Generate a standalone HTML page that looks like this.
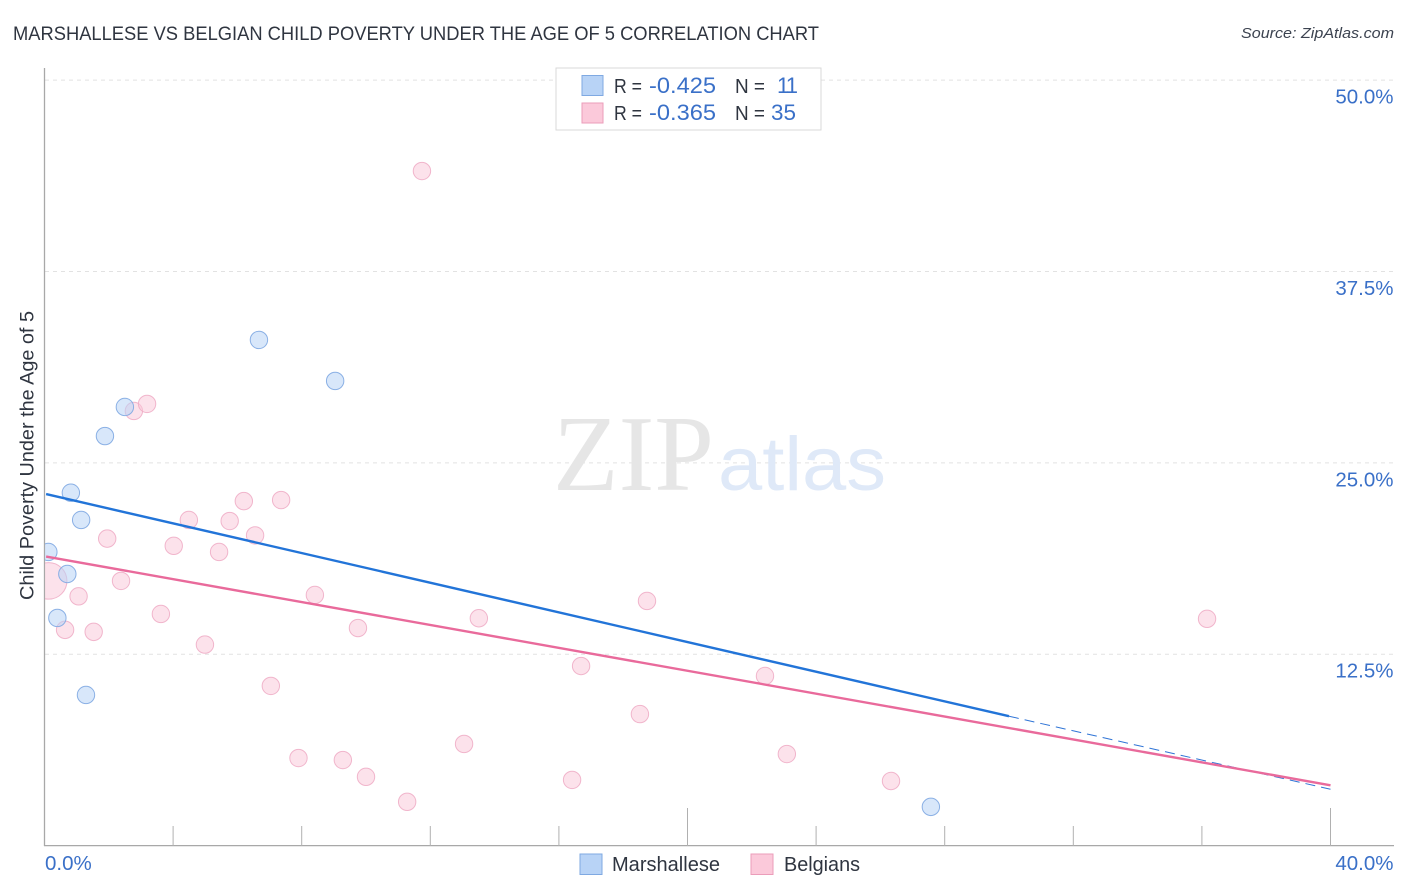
<!DOCTYPE html>
<html lang="en">
<head>
<meta charset="utf-8">
<title>Marshallese vs Belgian Child Poverty Correlation Chart</title>
<style>
html,body{margin:0;padding:0;background:#fff;}
svg{display:block;}
text{font-family:"Liberation Sans",sans-serif;}
</style>
</head>
<body>
<svg id="chart" xmlns="http://www.w3.org/2000/svg" width="1406" height="892" viewBox="0 0 1406 892">
  <rect x="0" y="0" width="1406" height="892" fill="#ffffff"/>
  <text x="13" y="40" font-size="19" fill="#2f3540" textLength="806" lengthAdjust="spacingAndGlyphs">MARSHALLESE VS BELGIAN CHILD POVERTY UNDER THE AGE OF 5 CORRELATION CHART</text>
  <text x="1241" y="38" font-size="15" font-style="italic" fill="#3c4350" textLength="153" lengthAdjust="spacingAndGlyphs">Source: ZipAtlas.com</text>

  <g id="grid"></g>

  <text x="553" y="490" font-size="108" fill="#e6e6e6" style="font-family:'Liberation Serif',serif" textLength="161" lengthAdjust="spacingAndGlyphs">ZIP</text>
  <text x="718" y="490" font-size="76" fill="#dfe9f8" textLength="168" lengthAdjust="spacingAndGlyphs">atlas</text>

  <g id="axes"></g>
  <g id="points"></g>
  <g id="trends"></g>
  <g id="labels"></g>

  <text transform="translate(33.5,600) rotate(-90)" x="0" y="0" font-size="19" fill="#2f3540" textLength="289" lengthAdjust="spacingAndGlyphs">Child Poverty Under the Age of 5</text>

  <g>
    <rect x="556" y="68" width="265" height="62" fill="#ffffff" stroke="#d9d9d9" stroke-width="1"/>
    <rect x="582" y="75.5" width="21" height="20" fill="#b8d3f6" stroke="#7fa9e2" stroke-width="1"/>
    <rect x="582" y="103" width="21" height="20" fill="#fbc9da" stroke="#eb9dba" stroke-width="1"/>
    <text x="614" y="93" font-size="20" fill="#2f3540" textLength="28" lengthAdjust="spacingAndGlyphs">R =</text>
    <text x="649" y="93" font-size="22" fill="#3a70c8" textLength="67" lengthAdjust="spacingAndGlyphs">-0.425</text>
    <text x="735" y="93" font-size="20" fill="#2f3540" textLength="30" lengthAdjust="spacingAndGlyphs">N =</text>
    <text x="777" y="93" font-size="22" fill="#3a70c8" textLength="21" lengthAdjust="spacing">11</text>
    <text x="614" y="120" font-size="20" fill="#2f3540" textLength="28" lengthAdjust="spacingAndGlyphs">R =</text>
    <text x="649" y="120" font-size="22" fill="#3a70c8" textLength="67" lengthAdjust="spacingAndGlyphs">-0.365</text>
    <text x="735" y="120" font-size="20" fill="#2f3540" textLength="30" lengthAdjust="spacingAndGlyphs">N =</text>
    <text x="771" y="120" font-size="22" fill="#3a70c8" textLength="25" lengthAdjust="spacingAndGlyphs">35</text>
  </g>

  <g>
    <rect x="580" y="854" width="22" height="20.5" fill="#b8d3f6" stroke="#7fa9e2" stroke-width="1"/>
    <text x="612" y="871" font-size="20" fill="#2f3540" textLength="108" lengthAdjust="spacingAndGlyphs">Marshallese</text>
    <rect x="751" y="854" width="22" height="20.5" fill="#fbc9da" stroke="#eb9dba" stroke-width="1"/>
    <text x="784" y="871" font-size="20" fill="#2f3540" textLength="76" lengthAdjust="spacingAndGlyphs">Belgians</text>
  </g>
</svg>

<script>
// Chart data (percent values)
const yTickValues = [50, 37.5, 25, 12.5];
const yTickLabels = ["50.0%", "37.5%", "25.0%", "12.5%"];
const xTickValues = [0, 4, 8, 12, 16, 20, 24, 28, 32, 36, 40];
const xMajorTicks = [20, 40];
const xEdgeLabels = ["0.0%", "40.0%"];
const xEdgeValues = [0, 40];

const marshalleseX = [0.12, 0.82, 1.14, 1.88, 2.5, 6.67, 9.04, 0.71, 0.4, 1.29, 27.57];
const marshalleseY = [19.18, 23.05, 21.27, 26.75, 28.65, 33.03, 30.35, 17.74, 14.87, 9.84, 2.53];

const belgianX = [1.95, 4.02, 4.49, 5.43, 5.76, 6.2, 7.36, 6.55, 2.38, 1.06, 0.64, 1.53, 3.62, 4.99, 7.04,
  0.13, 11.74, 2.78, 3.19, 8.41, 9.75, 13.51, 18.74, 36.16, 16.69, 22.41, 18.52, 13.05, 7.9, 9.28, 10.0, 11.28, 16.41, 23.09, 26.33];
const belgianY = [20.05, 19.58, 21.27, 19.18, 21.2, 22.5, 22.57, 20.26, 17.29, 16.28, 14.09, 13.96, 15.13, 13.13, 10.43,
  17.29, 44.06, 28.39, 28.85, 16.37, 14.21, 14.85, 15.98, 14.81, 11.73, 11.08, 8.59, 6.64, 5.72, 5.59, 4.49, 2.86, 4.29, 5.98, 4.22];
const belgianSizes = [1, 1, 1, 1, 1, 1, 1, 1, 1, 1, 1, 1, 1, 1, 1,
  2.1, 1, 1, 1, 1, 1, 1, 1, 1, 1, 1, 1, 1, 1, 1, 1, 1, 1, 1, 1];

const marshalleseTrendX = [0.05, 30];
const marshalleseTrendY = [22.96, 8.45];
const marshalleseDashX = [30, 40];
const marshalleseDashY = [8.45, 3.68];
const belgianTrendX = [0.05, 40];
const belgianTrendY = [18.88, 3.94];

// Axis functions
const xScale = v => 44.5 + v * 32.15;
const yScale = v => 845.6 - v * 15.31;
const NS = "http://www.w3.org/2000/svg";
const POINT_RADIUS = 8.7;
const TICK_LABEL_FONT = 20.5;

function make(tag, attrs, parent) {
  const el = document.createElementNS(NS, tag);
  for (const k in attrs) el.setAttribute(k, attrs[k]);
  parent.appendChild(el);
  return el;
}

const defs = make("defs", {}, document.getElementById("chart"));
const clip = make("clipPath", { id: "plot-clip" }, defs);
make("rect", { x: 45, y: 60, width: 1360, height: 786 }, clip);

// Gridlines
const gridG = document.getElementById("grid");
yTickValues.forEach(v => {
  const el = make("line", { x1: 45, x2: 1394, y1: yScale(v), y2: yScale(v), stroke: "#e2e2e2", "stroke-width": 1, "stroke-dasharray": "4 4" }, gridG);
  
  
});

// Axes and ticks
const axesG = document.getElementById("axes");
const yAxis = make("line", { x1: 44.5, x2: 44.5, y1: 68, y2: 846, stroke: "#a8a8a8", "stroke-width": 1.3 }, axesG);


const xAxis = make("line", { x1: 44, x2: 1394, y1: 845.6, y2: 845.6, stroke: "#a8a8a8", "stroke-width": 1.3 }, axesG);


xTickValues.slice(1).forEach(v => {
  const top = xMajorTicks.includes(v) ? 808 : 826;
  const el = make("line", { x1: xScale(v), x2: xScale(v), y1: top, y2: 846, stroke: "#b0b0b0", "stroke-width": 1 }, axesG);
  
  
});

// Points
const pointsG = document.getElementById("points");
belgianX.forEach((v, i) => {
  const el = make("circle", {
    cx: xScale(v), cy: yScale(belgianY[i]), r: POINT_RADIUS * belgianSizes[i],
    fill: "#f9c6d8", "fill-opacity": 0.5, stroke: "#eeaac4", "stroke-opacity": 0.85, "stroke-width": 1,
    "clip-path": "url(#plot-clip)"
  }, pointsG);
  
  
});
marshalleseX.forEach((v, i) => {
  const el = make("circle", {
    cx: xScale(v), cy: yScale(marshalleseY[i]), r: POINT_RADIUS,
    fill: "#b8d3f6", "fill-opacity": 0.55, stroke: "#7fa9e2", "stroke-opacity": 0.9, "stroke-width": 1,
    "clip-path": "url(#plot-clip)"
  }, pointsG);
  
  
});

// Trend lines
const trendsG = document.getElementById("trends");
const dash = make("line", {
  x1: xScale(marshalleseDashX[0]), y1: yScale(marshalleseDashY[0]),
  x2: xScale(marshalleseDashX[1]), y2: yScale(marshalleseDashY[1]),
  stroke: "#2f74d6", "stroke-width": 1, "stroke-dasharray": "10 6"
}, trendsG);


const trendBlue = make("line", {
  x1: xScale(marshalleseTrendX[0]), y1: yScale(marshalleseTrendY[0]),
  x2: xScale(marshalleseTrendX[1]), y2: yScale(marshalleseTrendY[1]),
  stroke: "#2274d8", "stroke-width": 2.4
}, trendsG);


const trendPink = make("line", {
  x1: xScale(belgianTrendX[0]), y1: yScale(belgianTrendY[0]),
  x2: xScale(belgianTrendX[1]), y2: yScale(belgianTrendY[1]),
  stroke: "#e96a9b", "stroke-width": 2.4
}, trendsG);



// Axis labels
const labelsG = document.getElementById("labels");
yTickValues.forEach((v, i) => {
  const el = make("text", { x: 1393.5, y: yScale(v) + 23.5, "text-anchor": "end", "font-size": TICK_LABEL_FONT, fill: "#3a70c8" }, labelsG);
  el.textContent = yTickLabels[i];
  
  
});
xEdgeValues.forEach((v, i) => {
  const first = i === 0;
  const el = make("text", {
    x: first ? 45 : 1393.5, y: 870, "text-anchor": first ? "start" : "end",
    "font-size": TICK_LABEL_FONT, fill: "#3a70c8"
  }, labelsG);
  el.textContent = xEdgeLabels[i];
  
  
});
</script>
</body>
</html>
